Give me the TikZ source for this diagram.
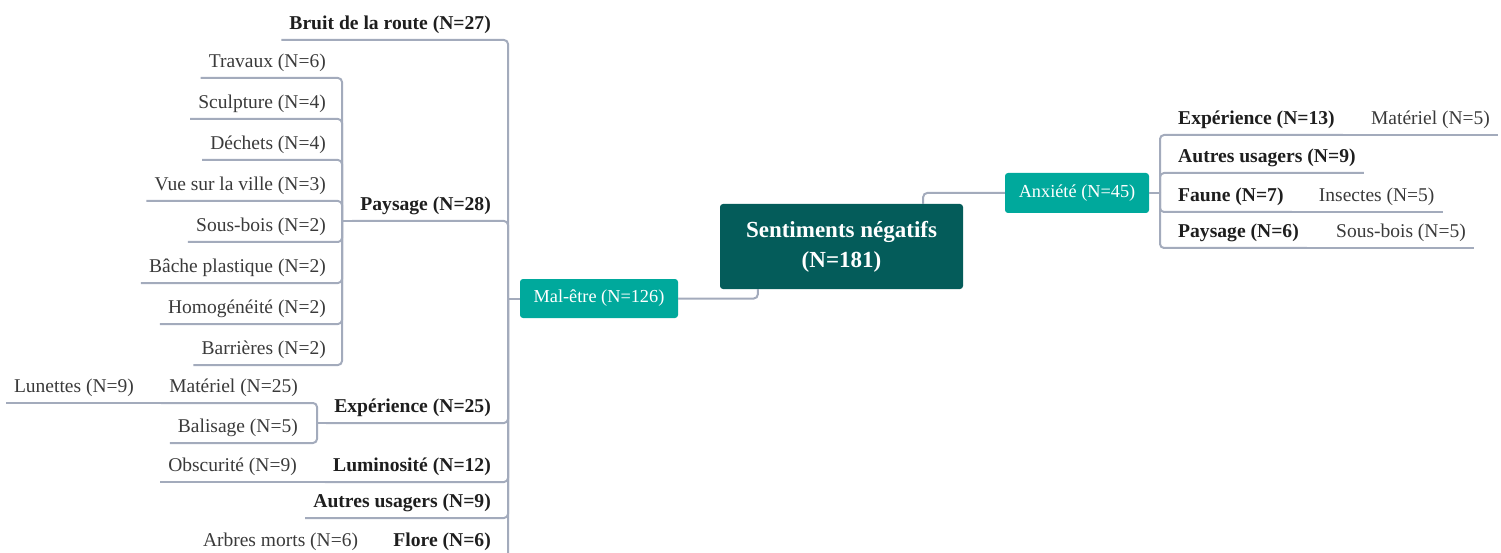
\documentclass[tikz,border=0pt]{standalone}
\usepackage{fontspec}
\setmainfont{Liberation Serif}
\usetikzlibrary{calc}
\definecolor{ln}{HTML}{A3ABBC}
\definecolor{tealA}{HTML}{00A99C}
\definecolor{tealD}{HTML}{045C5A}
\definecolor{txt}{HTML}{3A3A3A}
\definecolor{txtb}{HTML}{1E1E1E}
\begin{document}
\begin{tikzpicture}[x=1pt,y=-1pt,
  lbl/.style={font=\fontsize{19.5}{22}\selectfont, text=txt, inner xsep=8pt, inner ysep=5pt, text height=14pt, text depth=5pt},
  blbl/.style={lbl, font=\fontsize{19.6}{22}\selectfont\bfseries, text=txtb},
  conn/.style={draw=ln, line width=2pt, rounded corners=4pt},
  sbox/.style={fill=tealA, rounded corners=3pt, text=white, font=\fontsize{18.3}{22}\selectfont, inner sep=0pt, minimum height=40pt},
  rbox/.style={fill=tealD, rounded corners=3pt, text=white, font=\fontsize{23}{30}\selectfont\bfseries, inner sep=0pt, minimum width=243pt, minimum height=85pt, align=center}
]
\useasboundingbox (0,0) rectangle (1501,553);

% central and main boxes
\node[rbox] (root) at (841.5,246.5) {Sentiments négatifs\\(N=181)};
\node[sbox, minimum width=158pt, minimum height=39pt] (mal) at (599,298.5) {Mal-être (N=126)};
\node[sbox, minimum width=144pt] (anx) at (1077,193) {Anxiété (N=45)};

\draw[conn] ($(root.south west)+(38,0)$) |- (mal.east);
\draw[conn] ($(root.north east)+(-40,0)$) |- (anx.west);

% junctions
\coordinate (jm) at (508,298.5);
\coordinate (jp) at (342,221);
\coordinate (je) at (317,423);
\coordinate (ja) at (1160,193);

% Mal-etre children
\node[blbl, anchor=south east] (bruit) at (499,40) {Bruit de la route (N=27)};
\node[blbl, anchor=south east] (pay) at (499,221) {Paysage (N=28)};
\node[blbl, anchor=south east] (exp) at (499,423) {Expérience (N=25)};
\node[blbl, anchor=south east] (lum) at (499,482) {Luminosité (N=12)};
\node[blbl, anchor=south east] (aut) at (499,518) {Autres usagers (N=9)};
\node[blbl, anchor=south east] (flo) at (499,557) {Flore (N=6)};

\draw[conn] (mal.west) -- (jm);
\foreach \c in {bruit,pay,exp,lum,aut,flo} \draw[conn] (jm) |- (\c.south west);

% Paysage children
\node[lbl, anchor=south east] (trav) at (334,78) {Travaux (N=6)};
\node[lbl, anchor=south east] (scul) at (334,119) {Sculpture (N=4)};
\node[lbl, anchor=south east] (dech) at (334,160) {Déchets (N=4)};
\node[lbl, anchor=south east] (vue) at (334,201) {Vue sur la ville (N=3)};
\node[lbl, anchor=south east] (sous) at (334,242) {Sous-bois (N=2)};
\node[lbl, anchor=south east] (bache) at (334,283) {Bâche plastique (N=2)};
\node[lbl, anchor=south east] (homo) at (334,324) {Homogénéité (N=2)};
\node[lbl, anchor=south east] (barr) at (334,365) {Barrières (N=2)};

\draw[conn] (pay.south west) -- (jp);
\foreach \c in {trav,scul,dech,vue,sous,bache,homo,barr} \draw[conn] (jp) |- (\c.south west);

% Experience children
\node[lbl, anchor=south east] (mat) at (306,403) {Matériel (N=25)};
\node[lbl, anchor=south east] (bal) at (306,443) {Balisage (N=5)};
\draw[conn] (exp.south west) -- (je);
\foreach \c in {mat,bal} \draw[conn] (je) |- (\c.south west);

\node[lbl, anchor=south east] (lun) at ($(mat.south west)+(-19,0)$) {Lunettes (N=9)};
\draw[conn] (mat.south west) -- (lun.south west);

\node[lbl, anchor=south east] (obs) at ($(lum.south west)+(-20,0)$) {Obscurité (N=9)};
\draw[conn] (lum.south west) -- (obs.south west);

\node[lbl, anchor=south east] (arb) at ($(flo.south west)+(-19,0)$) {Arbres morts (N=6)};
\draw[conn] (flo.south west) -- (arb.south west);

% Anxiete children
\node[blbl, anchor=south west] (exp2) at (1170,135) {Expérience (N=13)};
\node[blbl, anchor=south west] (aut2) at (1170,173) {Autres usagers (N=9)};
\node[blbl, anchor=south west] (fau) at (1170,212) {Faune (N=7)};
\node[blbl, anchor=south west] (pay2) at (1170,248) {Paysage (N=6)};

\draw[conn] (anx.east) -- (ja);
\foreach \c in {exp2,aut2,fau,pay2} \draw[conn] (ja) |- (\c.south east);

\node[lbl, anchor=south west] (mat2) at ($(exp2.south east)+(20,0)$) {Matériel (N=5)};
\draw[conn] (exp2.south east) -- (mat2.south east);
\node[lbl, anchor=south west] (ins) at ($(fau.south east)+(19,0)$) {Insectes (N=5)};
\draw[conn] (fau.south east) -- (ins.south east);
\node[lbl, anchor=south west] (sb) at ($(pay2.south east)+(21,0)$) {Sous-bois (N=5)};
\draw[conn] (pay2.south east) -- (sb.south east);
\end{tikzpicture}
\end{document}
